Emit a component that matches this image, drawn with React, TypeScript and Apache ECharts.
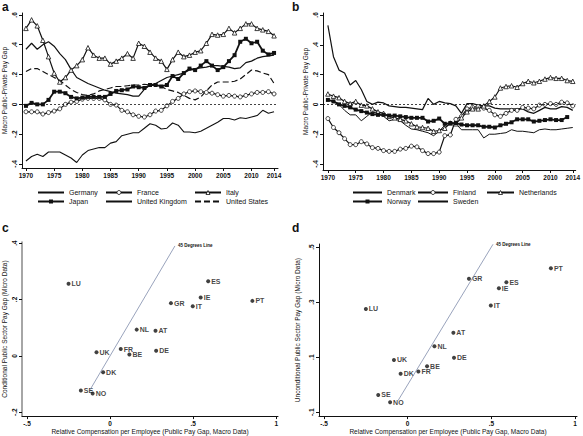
import React, { useEffect, useRef } from "react";
import * as echarts from "echarts";

const years = [1970, 1971, 1972, 1973, 1974, 1975, 1976, 1977, 1978, 1979, 1980, 1981, 1982, 1983, 1984, 1985, 1986, 1987, 1988, 1989, 1990, 1991, 1992, 1993, 1994, 1995, 1996, 1997, 1998, 1999, 2000, 2001, 2002, 2003, 2004, 2005, 2006, 2007, 2008, 2009, 2010, 2011, 2012, 2013, 2014];
const yearTicks = [1970, 1975, 1980, 1985, 1990, 1995, 2000, 2005, 2010, 2014];

// Panel a
const germany = [0.37, 0.41, 0.37, 0.40, 0.42, 0.39, 0.34, 0.30, 0.235, 0.18, 0.16, 0.14, 0.125, 0.11, 0.095, 0.085, 0.075, 0.07, 0.065, 0.055, 0.055, 0.10, 0.13, 0.14, 0.16, 0.18, 0.19, 0.20, 0.21, 0.23, 0.24, 0.245, 0.25, 0.26, 0.26, 0.255, 0.25, 0.24, 0.245, 0.28, 0.29, 0.31, 0.32, 0.325, 0.33];
const france = [-0.05, -0.05, -0.05, -0.065, -0.055, -0.045, -0.03, 0.0, 0.015, 0.02, 0.035, 0.04, 0.04, 0.04, 0.03, 0.0, -0.005, -0.04, -0.05, -0.07, -0.08, -0.085, -0.07, -0.045, -0.04, -0.01, 0.02, 0.04, 0.07, 0.085, 0.09, 0.085, 0.08, 0.075, 0.065, 0.055, 0.06, 0.055, 0.05, 0.06, 0.07, 0.08, 0.08, 0.085, 0.07];
const italy = [0.51, 0.567, 0.527, 0.43, 0.32, 0.21, 0.15, 0.18, 0.23, 0.26, 0.30, 0.38, 0.33, 0.31, 0.31, 0.27, 0.29, 0.31, 0.34, 0.31, 0.41, 0.39, 0.35, 0.31, 0.29, 0.235, 0.30, 0.35, 0.32, 0.33, 0.35, 0.36, 0.41, 0.47, 0.465, 0.47, 0.51, 0.48, 0.51, 0.54, 0.54, 0.51, 0.50, 0.49, 0.46];
const japan = [-0.01, 0.01, 0.0, 0.0, 0.03, 0.085, 0.085, 0.075, 0.05, 0.04, 0.045, 0.05, 0.05, 0.05, 0.05, 0.07, 0.09, 0.095, 0.10, 0.12, 0.115, 0.11, 0.13, 0.13, 0.12, 0.13, 0.19, 0.17, 0.21, 0.24, 0.23, 0.26, 0.29, 0.26, 0.23, 0.25, 0.29, 0.33, 0.42, 0.44, 0.41, 0.42, 0.36, 0.335, 0.345];
const unitedKingdom = [-0.38, -0.35, -0.335, -0.35, -0.32, -0.32, -0.32, -0.34, -0.36, -0.39, -0.34, -0.31, -0.30, -0.29, -0.29, -0.26, -0.25, -0.21, -0.20, -0.19, -0.19, -0.16, -0.13, -0.14, -0.165, -0.16, -0.125, -0.14, -0.185, -0.185, -0.19, -0.18, -0.16, -0.14, -0.12, -0.095, -0.095, -0.105, -0.09, -0.095, -0.085, -0.075, -0.04, -0.06, -0.05];
const unitedStates = [0.22, 0.24, 0.24, 0.22, 0.20, 0.18, 0.16, 0.13, 0.10, 0.08, 0.065, 0.06, 0.07, 0.09, 0.10, 0.11, 0.12, 0.12, 0.125, 0.13, 0.13, 0.135, 0.13, 0.125, 0.12, 0.10, 0.09, 0.08, 0.06, 0.04, 0.03, 0.05, 0.09, 0.13, 0.15, 0.15, 0.15, 0.155, 0.17, 0.20, 0.23, 0.225, 0.21, 0.20, 0.14];

// Panel b
const denmark = [0.53, 0.32, 0.23, 0.21, 0.13, 0.16, 0.10, 0.02, 0.0, 0.015, 0.01, -0.01, -0.015, -0.02, -0.02, -0.025, -0.03, -0.035, 0.04, 0.0, 0.02, 0.01, 0.005, -0.01, -0.06, 0.005, 0.005, -0.005, -0.01, -0.01, -0.025, -0.03, -0.03, -0.03, -0.03, -0.03, -0.05, -0.06, -0.04, -0.02, -0.03, -0.03, -0.015, -0.02, -0.04];
const finland = [-0.095, -0.155, -0.19, -0.23, -0.27, -0.27, -0.25, -0.265, -0.29, -0.295, -0.31, -0.315, -0.315, -0.30, -0.295, -0.28, -0.285, -0.31, -0.33, -0.33, -0.32, -0.21, -0.205, -0.10, -0.08, -0.03, -0.02, -0.015, -0.025, -0.04, -0.07, -0.08, -0.06, -0.04, -0.04, -0.02, -0.025, -0.03, -0.005, 0.0, 0.005, 0.0, 0.015, 0.01, -0.01];
const netherlands = [0.07, 0.055, 0.045, 0.02, 0.005, 0.02, -0.005, -0.01, -0.03, -0.05, -0.06, -0.08, -0.09, -0.10, -0.11, -0.13, -0.15, -0.155, -0.16, -0.18, -0.175, -0.16, -0.125, -0.13, -0.09, -0.05, -0.03, -0.03, -0.01, 0.02, 0.05, 0.11, 0.12, 0.125, 0.115, 0.14, 0.155, 0.145, 0.155, 0.17, 0.18, 0.175, 0.175, 0.16, 0.155];
const norway = [0.03, 0.02, 0.0, -0.01, -0.02, -0.035, -0.045, -0.055, -0.065, -0.07, -0.07, -0.075, -0.075, -0.08, -0.085, -0.09, -0.09, -0.09, -0.115, -0.11, -0.095, -0.13, -0.125, -0.125, -0.135, -0.14, -0.14, -0.14, -0.15, -0.15, -0.155, -0.14, -0.13, -0.12, -0.1, -0.1, -0.1, -0.115, -0.11, -0.105, -0.10, -0.105, -0.105, -0.085, null];
const sweden = [0.03, 0.02, 0.0, -0.04, -0.07, -0.07, -0.11, -0.08, -0.05, -0.06, -0.08, -0.11, -0.10, -0.11, -0.14, -0.165, -0.17, -0.18, -0.19, -0.21, -0.18, -0.14, -0.12, -0.13, -0.17, -0.17, -0.17, -0.17, -0.225, -0.2, -0.2, -0.195, -0.19, -0.17, -0.18, -0.18, -0.185, -0.19, -0.17, -0.165, -0.17, -0.17, -0.165, -0.16, -0.155];

// Panels c and d
const countries = ["LU", "ES", "IE", "PT", "GR", "IT", "NL", "AT", "FR", "DE", "UK", "BE", "DK", "SE", "NO"];
const macroGap = [-0.25, 0.59, 0.545, 0.856, 0.366, 0.497, 0.16, 0.273, 0.064, 0.277, -0.082, 0.116, -0.042, -0.176, -0.105];
const conditionalGap = [0.256, 0.265, 0.207, 0.195, 0.187, 0.176, 0.093, 0.089, 0.024, 0.018, 0.013, 0.005, -0.058, -0.123, -0.134];
const unconditionalGap = [0.275, 0.372, 0.350, 0.423, 0.385, 0.288, 0.140, 0.189, 0.048, 0.098, 0.090, 0.067, 0.040, -0.037, -0.064];
const lineC = [-0.12, 0.39];
const lineD = [-0.058, 0.51];

const INK = "#111";
const FONT = "Liberation Sans, Arial, sans-serif";

const fmt = (v: number) => {
  if (Math.abs(v) < 1e-9) return "0";
  const r = Math.round(v * 10) / 10;
  return String(r).replace("0.", ".");
};

const pairs = (vals: (number | null)[]) => years.map((y, i) => [y, vals[i]]);

export default function App() {
  const ref = useRef<HTMLDivElement>(null);
  useEffect(() => {
    if (!ref.current) return;
    const chart = echarts.init(ref.current, undefined, { renderer: "svg" });

    const axisLine = { show: true, onZero: false, lineStyle: { color: INK, width: 1 } };
    const tick = (vals: number[]) => ({ show: true, length: 3, customValues: vals, lineStyle: { color: INK } });
    const yLabel = (vals: number[]) => ({
      show: true, rotate: 90, fontSize: 6.5, color: INK, fontFamily: FONT, fontWeight: "bold" as const,
      margin: 4, customValues: vals, formatter: (v: number) => fmt(v),
    });
    const xLabel = (vals: number[], f?: (v: number) => string) => ({
      show: true, fontSize: 6.5, color: INK, fontFamily: FONT, fontWeight: "bold" as const,
      margin: 4, customValues: vals, formatter: f || ((v: number) => String(v)),
    });
    const nameStyle = { fontSize: 6.5, color: INK, fontFamily: FONT };

    const tsY = [-0.4, -0.2, 0, 0.2, 0.4, 0.6];
    const sX = [-0.5, 0, 0.5, 1];

    const zeroLine = {
      silent: true, symbol: "none", label: { show: false },
      lineStyle: { color: INK, type: [2, 2] as any, width: 0.8 },
      data: [{ yAxis: 0 }],
    };

    const lineBase = (name: string, idx: number, vals: (number | null)[], extra: any = {}) => ({
      type: "line", name, xAxisIndex: idx, yAxisIndex: idx, data: pairs(vals),
      symbol: "none", showSymbol: true, connectNulls: false,
      lineStyle: { color: INK, width: 1.2 }, itemStyle: { color: INK },
      ...extra,
    });

    const hollowCircle = { symbol: "circle", symbolSize: 4, itemStyle: { color: "#fff", borderColor: INK, borderWidth: 0.8 } };
    const hollowTri = { symbol: "triangle", symbolSize: 4.5, itemStyle: { color: "#fff", borderColor: INK, borderWidth: 0.8 } };
    const filledSq = { symbol: "rect", symbolSize: 4, itemStyle: { color: INK }, lineStyle: { color: INK, width: 1.8 } };

    const plain = (name: string) => ({ name, itemStyle: { color: "transparent", borderColor: "transparent", opacity: 0 } });
    const hollow = (name: string) => ({ name, itemStyle: { color: "#fff", borderColor: INK, borderWidth: 0.8 } });

    const legendBase = (left: number, names: any[], w: number) => ({
      orient: "vertical", left, top: 189, padding: 0, data: names, itemWidth: w, itemHeight: 5, itemGap: 2,
      textStyle: { fontSize: 7, color: INK, fontFamily: FONT },
      selectedMode: false,
    });

    const scatterSeries = (idx: number, ys: number[]) => ({
      type: "scatter", xAxisIndex: idx, yAxisIndex: idx,
      data: countries.map((c, i) => ({ name: c, value: [macroGap[i], ys[i]] })),
      symbol: "circle", symbolSize: 4, itemStyle: { color: INK },
      label: { show: true, position: "right", distance: 1, formatter: (p: any) => p.name, fontSize: 7, color: INK, fontFamily: FONT, fontWeight: "bold" },
    });

    const diagSeries = (idx: number, ends: number[]) => ({
      type: "line", xAxisIndex: idx, yAxisIndex: idx,
      data: [[ends[0], ends[0]], [ends[1], ends[1]]],
      symbol: "none", lineStyle: { color: "#7f8cab", width: 0.8 },
      endLabel: { show: true, formatter: "45 Degrees Line", fontSize: 4.5, color: INK, fontFamily: FONT, fontWeight: "bold", distance: 3 },
    });

    const letterFont = "bold 12px Liberation Sans, Arial, sans-serif";

    chart.setOption({
      animation: false,
      backgroundColor: "#fff",
      textStyle: { fontFamily: FONT },
      graphic: [
        { type: "text", left: 2, top: 1, style: { text: "a", font: letterFont, fill: INK } },
        { type: "text", left: 292, top: 1, style: { text: "b", font: letterFont, fill: INK } },
        { type: "text", left: 2, top: 222, style: { text: "c", font: letterFont, fill: INK } },
        { type: "text", left: 292, top: 222, style: { text: "d", font: letterFont, fill: INK } },
      ],
      grid: [
        { left: 21, top: 13, width: 257, height: 155 },
        { left: 323, top: 13, width: 257, height: 157 },
        { left: 22, top: 242, width: 256, height: 175 },
        { left: 319, top: 244, width: 258, height: 173 },
      ],
      xAxis: [
        { type: "value", gridIndex: 0, min: 1969.3, max: 2014.7, axisLine, axisTick: tick(yearTicks), axisLabel: xLabel(yearTicks), splitLine: { show: false } },
        { type: "value", gridIndex: 1, min: 1969.12, max: 2014.53, axisLine, axisTick: tick(yearTicks), axisLabel: xLabel(yearTicks), splitLine: { show: false } },
        { type: "value", gridIndex: 2, min: -0.53, max: 1.01, axisLine, axisTick: tick(sX), axisLabel: xLabel(sX, fmt), splitLine: { show: false },
          name: "Relative Compensation per Employee (Public Pay Gap, Macro Data)", nameLocation: "middle", nameGap: 10, nameTextStyle: nameStyle },
        { type: "value", gridIndex: 3, min: -0.53, max: 1.012, axisLine, axisTick: tick(sX), axisLabel: xLabel(sX, fmt), splitLine: { show: false },
          name: "Relative Compensation per Employee (Public Pay Gap, Macro Data)", nameLocation: "middle", nameGap: 10, nameTextStyle: nameStyle },
      ],
      yAxis: [
        { type: "value", gridIndex: 0, min: -0.427, max: 0.613, axisLine, axisTick: tick(tsY), axisLabel: yLabel(tsY), splitLine: { show: false },
          name: "Macro Public-Private Pay Gap", nameLocation: "middle", nameGap: 14, nameTextStyle: nameStyle },
        { type: "value", gridIndex: 1, min: -0.44, max: 0.613, axisLine, axisTick: tick(tsY), axisLabel: yLabel(tsY), splitLine: { show: false },
          name: "Macro Public-Private Pay Gap", nameLocation: "middle", nameGap: 14, nameTextStyle: nameStyle },
        { type: "value", gridIndex: 2, min: -0.214, max: 0.404, axisLine: { show: true, onZero: false, lineStyle: { color: "#888", width: 1.5 } }, axisTick: tick([-0.2, 0, 0.2, 0.4]), axisLabel: yLabel([-0.2, 0, 0.2, 0.4]), splitLine: { show: false },
          name: "Conditional Public Sector Pay Gap (Micro Data)", nameLocation: "middle", nameGap: 14, nameTextStyle: nameStyle },
        { type: "value", gridIndex: 3, min: -0.114, max: 0.511, axisLine, axisTick: tick([-0.1, 0.1, 0.3, 0.5]), axisLabel: yLabel([-0.1, 0.1, 0.3, 0.5]), splitLine: { show: false },
          name: "Unconditional Public Sector Pay Gap (Micro Data)", nameLocation: "middle", nameGap: 18, nameTextStyle: nameStyle },
      ],
      legend: [
        legendBase(37, [plain("Germany"), "Japan"], 26),
        legendBase(105, [hollow("France"), plain("United Kingdom")], 26),
        legendBase(194, [hollow("Italy"), plain("United States")], 26),
        legendBase(352, [plain("Denmark"), "Norway"], 29),
        legendBase(417, [hollow("Finland"), plain("Sweden")], 30),
        legendBase(486, [hollow("Netherlands")], 27),
      ],
      series: [
        lineBase("Germany", 0, germany, { markLine: zeroLine }),
        lineBase("France", 0, france, hollowCircle),
        lineBase("Italy", 0, italy, hollowTri),
        lineBase("Japan", 0, japan, filledSq),
        lineBase("United Kingdom", 0, unitedKingdom, { lineStyle: { color: INK, width: 1.1 } }),
        lineBase("United States", 0, unitedStates, { lineStyle: { color: INK, width: 1.2, type: [6, 3] } }),
        lineBase("Denmark", 1, denmark, { markLine: zeroLine }),
        lineBase("Finland", 1, finland, hollowCircle),
        lineBase("Netherlands", 1, netherlands, hollowTri),
        lineBase("Norway", 1, norway, filledSq),
        lineBase("Sweden", 1, sweden, { lineStyle: { color: INK, width: 1.0 } }),
        diagSeries(2, lineC),
        scatterSeries(2, conditionalGap),
        diagSeries(3, lineD),
        scatterSeries(3, unconditionalGap),
      ],
    } as any);
    return () => chart.dispose();
  }, []);
  return <div ref={ref} style={{ position: "absolute", left: 0, top: 0, width: 583, height: 436 }} />;
}
